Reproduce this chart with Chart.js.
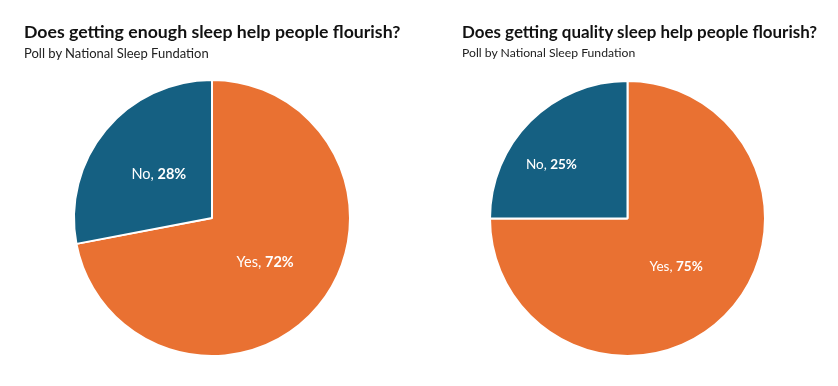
<!DOCTYPE html>
<html>
<head>
<meta charset="utf-8">
<script src="https://cdn.jsdelivr.net/npm/chart.js@4"></script>
<style>
  html, body { margin: 0; padding: 0; background: #fff; }
  .wrap { position: relative; width: 838px; height: 386px; font-family: Lato, "Open Sans", sans-serif; }
  .box { position: absolute; top: 0; height: 386px; width: 419px; }
  #box1 { left: 0; }
  #box2 { left: 419px; }
  .title { position: absolute; font-weight: 700; color: #111; white-space: nowrap; line-height: 20px; }
  .sub { position: absolute; font-weight: 400; color: #222; white-space: nowrap; line-height: 16px; }
</style>
</head>
<body>
<div class="wrap">
  <div class="box" id="box1"><canvas id="pie1"></canvas></div>
  <div class="box" id="box2"><canvas id="pie2"></canvas></div>
  <div class="title" id="t1" style="left:24px; top:22px; font-size:17.7px;"></div>
  <div class="sub" id="s1" style="left:24px; top:44.5px; font-size:13px;"></div>
  <div class="title" id="t2" style="left:462px; top:22px; font-size:16.95px;"></div>
  <div class="sub" id="s2" style="left:462px; top:44.5px; font-size:12.2px;"></div>
</div>
<script>
// data
const categories = ['Yes', 'No'];
const enoughValues = [72, 28];
const qualityValues = [75, 25];
const titles = [
  'Does getting enough sleep help people flourish?',
  'Does getting quality sleep help people flourish?'
];
const subtitleText = 'Poll by National Sleep Fundation';

const sliceColors = ['#E97132', '#156082'];
const FONT = 'Lato, "Open Sans", sans-serif';

document.getElementById('t1').textContent = titles[0];
document.getElementById('t2').textContent = titles[1];
document.getElementById('s1').textContent = subtitleText;
document.getElementById('s2').textContent = subtitleText;

// draws "Label, XX%" with the number in bold inside each slice.
// place: per slice, radius as fraction of outer radius and angle nudge (deg)
const sliceLabels = {
  id: 'sliceLabels',
  afterDatasetsDraw(chart, args, opts) {
    const ctx = chart.ctx;
    const meta = chart.getDatasetMeta(0);
    const data = chart.data.datasets[0].data;
    const size = opts.size || 14;
    ctx.save();
    ctx.fillStyle = '#fff';
    ctx.textBaseline = 'middle';
    ctx.textAlign = 'left';
    meta.data.forEach((arc, i) => {
      const p = arc.getProps(['x', 'y', 'startAngle', 'endAngle', 'outerRadius']);
      const pl = (opts.place && opts.place[i]) || { r: 0.5, a: 0 };
      const ang = (p.startAngle + p.endAngle) / 2 + pl.a * Math.PI / 180;
      const px = p.x + Math.cos(ang) * p.outerRadius * pl.r;
      const py = p.y + Math.sin(ang) * p.outerRadius * pl.r;
      const a = chart.data.labels[i] + ', ';
      const b = data[i] + '%';
      ctx.font = '400 ' + size + 'px ' + FONT;
      const wa = ctx.measureText(a).width;
      ctx.font = '700 ' + size + 'px ' + FONT;
      const wb = ctx.measureText(b).width;
      const x0 = px - (wa + wb) / 2;
      ctx.font = '400 ' + size + 'px ' + FONT;
      ctx.fillText(a, x0, py);
      ctx.font = '700 ' + size + 'px ' + FONT;
      ctx.fillText(b, x0 + wa, py);
    });
    ctx.restore();
  }
};

function makePie(id, values, pad, labelSize, place) {
  return new Chart(document.getElementById(id), {
    type: 'pie',
    data: {
      labels: categories,
      datasets: [{
        data: values,
        backgroundColor: sliceColors,
        borderColor: '#ffffff',
        borderWidth: 2
      }]
    },
    plugins: [sliceLabels],
    options: {
      responsive: true,
      maintainAspectRatio: false,
      animation: false,
      layout: { padding: pad },
      plugins: {
        legend: { display: false },
        tooltip: { enabled: false },
        sliceLabels: { size: labelSize, place: place }
      }
    }
  });
}

makePie('pie1', enoughValues,
  { left: 24, right: 19, top: 79, bottom: 29 }, 14.5,
  [{ r: 0.5, a: 0 }, { r: 0.5, a: 0 }]);
makePie('pie2', qualityValues,
  { left: 43, right: 45, top: 80, bottom: 29 }, 13.5,
  [{ r: 0.5, a: 0 }, { r: 0.68, a: -9.5 }]);
</script>
</body>
</html>
